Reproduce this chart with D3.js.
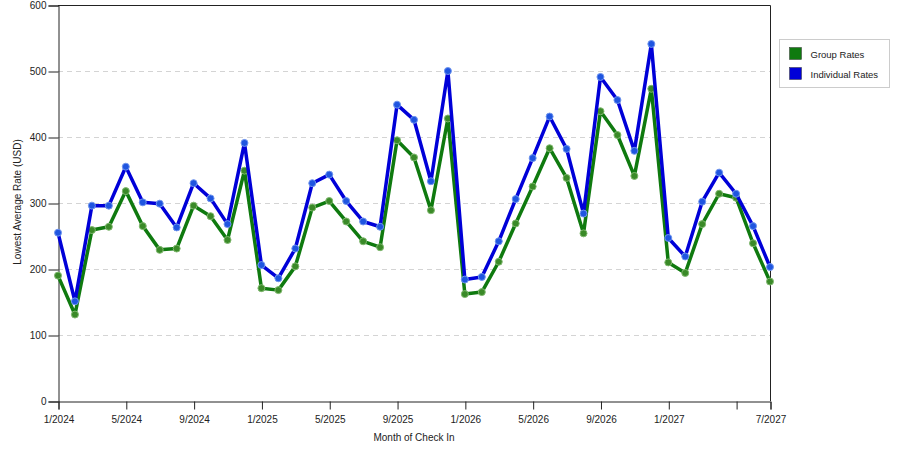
<!DOCTYPE html>
<html>
<head>
<meta charset="utf-8">
<script src="https://cdn.jsdelivr.net/npm/d3@7"></script>
<style>
	body { margin: 0; background: #fff; }
	svg { display: block; font-family: "Liberation Sans", Arial, sans-serif; }
</style>
</head>
<body>
<div id="chart"></div>
<script>
// one value per month, 1/2024 .. 7/2027
var months = [
	"2024-01","2024-02","2024-03","2024-04","2024-05","2024-06","2024-07","2024-08","2024-09","2024-10","2024-11","2024-12",
	"2025-01","2025-02","2025-03","2025-04","2025-05","2025-06","2025-07","2025-08","2025-09","2025-10","2025-11","2025-12",
	"2026-01","2026-02","2026-03","2026-04","2026-05","2026-06","2026-07","2026-08","2026-09","2026-10","2026-11","2026-12",
	"2027-01","2027-02","2027-03","2027-04","2027-05","2027-06","2027-07"
];

var groupRates = [
	190, 131, 259, 264, 318, 265, 229, 231, 296, 280, 244, 349,
	171, 168, 204, 293, 303, 272, 242, 233, 395, 369, 289, 428,
	162, 165, 211, 269, 325, 383, 338, 254, 439, 403, 341, 473,
	210, 194, 268, 314, 308, 239, 181
];

var individualRates = [
	255, 151, 296, 296, 355, 301, 299, 263, 330, 307, 268, 391,
	206, 186, 231, 330, 343, 303, 272, 264, 449, 426, 333, 500,
	184, 188, 242, 306, 368, 431, 382, 284, 491, 456, 379, 541,
	247, 219, 302, 346, 314, 265, 203
];

var xTicks = ["2024-01","2024-05","2024-09","2025-01","2025-05","2025-09","2026-01","2026-05","2026-09","2027-01","2027-05","2027-07"];
var xTickLabels = ["1/2024","5/2024","9/2024","1/2025","5/2025","9/2025","1/2026","5/2026","9/2026","1/2027","","7/2027"];
var yTicks = [0, 100, 200, 300, 400, 500, 600];

var series = [
	{ name: "Group Rates", values: groupRates, line: "#0f7a0f", dot: "#3a8a28", halo: "#7fb86e" },
	{ name: "Individual Rates", values: individualRates, line: "#0000d8", dot: "#1f55e0", halo: "#6f95ee" }
];

var width = 900,
	height = 450,
	plotLeft = 58,
	plotRight = 770,
	plotTop = 5,
	plotBottom = 401;

// months are evenly spaced in the reference, so position them by index
var x = d3.scaleLinear()
	.domain([0, months.length - 1])
	.range([plotLeft, plotRight]);

var y = d3.scaleLinear()
	.domain([0, 600])
	.range([plotBottom, plotTop]);

var svg = d3.select("#chart").append("svg")
	.attr("width", width)
	.attr("height", height);

// dashed grid
svg.append("g")
	.selectAll("line")
	.data(yTicks.filter(function(d) { return d > 0 && d < 600; }))
	.enter()
	.append("line")
	.attr("x1", plotLeft)
	.attr("x2", plotRight)
	.attr("y1", function(d) { return y(d) + 0.5; })
	.attr("y2", function(d) { return y(d) + 0.5; })
	.style("stroke", "#d4d4d4")
	.style("stroke-dasharray", "5,4");

// frame (top and right)
svg.append("path")
	.attr("d", "M" + plotLeft + "," + (plotTop + 0.5) + "H" + (plotRight + 0.5) + "V" + plotBottom)
	.style("fill", "none")
	.style("stroke", "#222");

// axes
var yAxis = d3.axisLeft(y)
	.tickValues(yTicks)
	.tickSize(10)
	.tickPadding(2);

var xAxis = d3.axisBottom(x)
	.tickValues(xTicks.map(function(m) { return months.indexOf(m); }))
	.tickFormat(function(d, i) { return xTickLabels[i]; })
	.tickSize(8)
	.tickPadding(6);

var gy = svg.append("g")
	.attr("transform", "translate(" + (plotLeft + 0.5) + ",0.5)")
	.call(yAxis);

var gx = svg.append("g")
	.attr("transform", "translate(0.5," + (plotBottom + 0.5) + ")")
	.call(xAxis);

[gx, gy].forEach(function(g) {
	g.select(".domain").style("stroke", "#222");
	g.selectAll(".tick line").style("stroke", "#222");
	g.selectAll(".tick text")
		.style("font-size", "10px")
		.style("fill", "#222")
		.style("font-family", "'Liberation Sans', Arial, sans-serif");
});

// axis titles
svg.append("text")
	.attr("transform", "translate(21,202) rotate(-90)")
	.style("text-anchor", "middle")
	.style("font-size", "10px")
	.style("fill", "#222")
	.text("Lowest Average Rate (USD)");

svg.append("text")
	.attr("x", 414)
	.attr("y", 441)
	.style("text-anchor", "middle")
	.style("font-size", "10px")
	.style("fill", "#222")
	.text("Month of Check In");

// lines
var line = d3.line()
	.x(function(d, i) { return x(i); })
	.y(function(d) { return y(d); });

series.forEach(function(s) {
	var g = svg.append("g");

	g.append("path")
		.datum(s.values)
		.attr("d", line)
		.style("fill", "none")
		.style("stroke", s.line)
		.style("stroke-width", 3.5)
		.style("stroke-linejoin", "round");

	g.selectAll("circle")
		.data(s.values)
		.enter()
		.append("circle")
		.attr("cx", function(d, i) { return x(i); })
		.attr("cy", function(d) { return y(d); })
		.attr("r", 3.5)
		.style("fill", s.dot)
		.style("stroke", s.halo)
		.style("stroke-width", 1);
});

// legend
var legend = svg.append("g")
	.attr("transform", "translate(779.5,39.5)");

legend.append("rect")
	.attr("width", 110)
	.attr("height", 48)
	.style("fill", "#fff")
	.style("stroke", "#ccc");

var items = legend.selectAll(".item")
	.data(series)
	.enter()
	.append("g")
	.attr("transform", function(d, i) { return "translate(10," + (8 + i * 20) + ")"; });

items.append("rect")
	.attr("width", 12)
	.attr("height", 12)
	.style("fill", function(d) { return d.line; })
	.style("stroke", "#333")
	.style("stroke-width", 0.5);

items.append("text")
	.attr("x", 21)
	.attr("y", 10)
	.style("font-size", "9.5px")
	.style("fill", "#222")
	.text(function(d) { return d.name; });
</script>
</body>
</html>
